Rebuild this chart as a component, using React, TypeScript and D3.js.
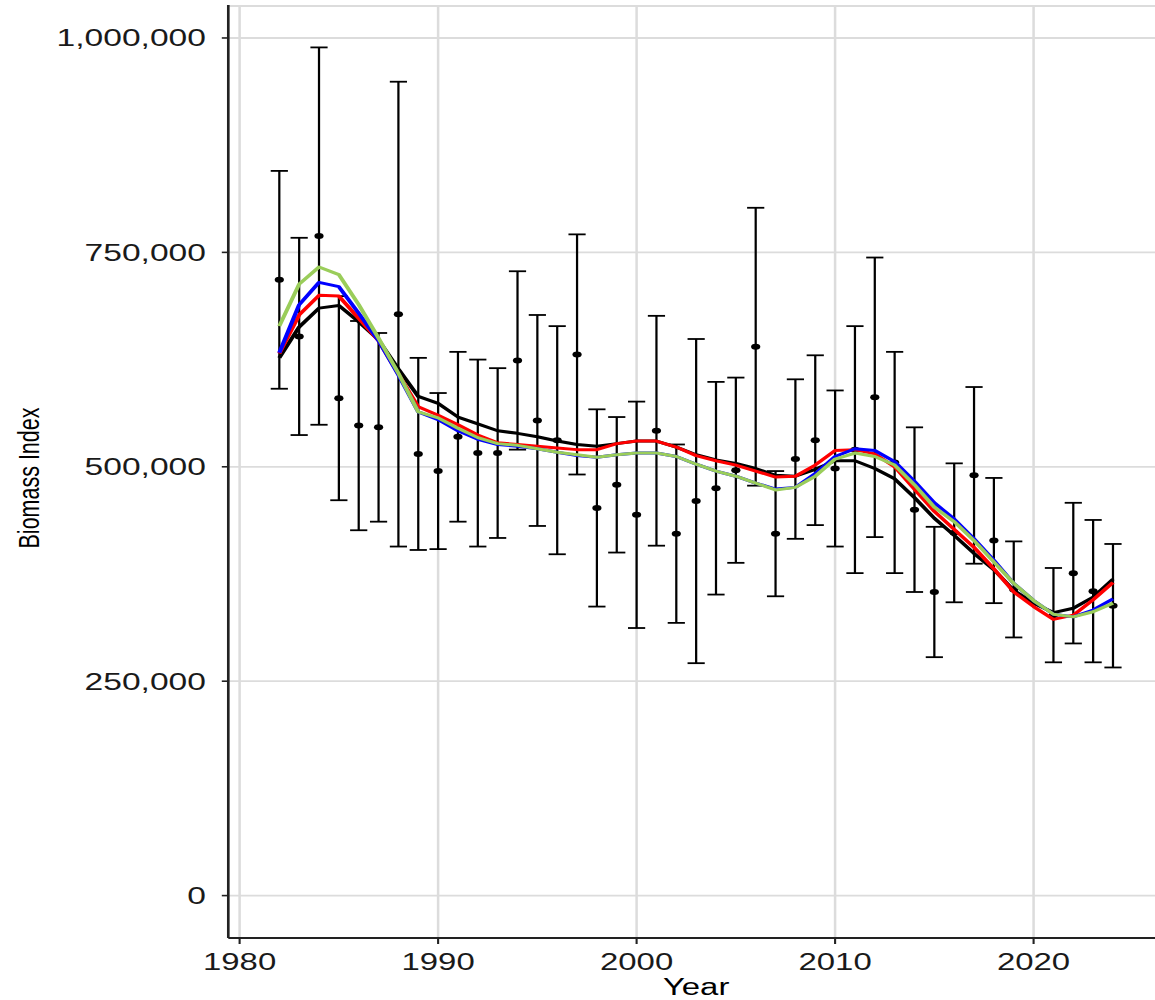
import React from "react";
import * as d3 from "d3";

// Survey biomass index with observation error bars
const obsYears = [
  1982, 1983, 1984, 1985, 1986, 1987, 1988, 1989, 1990, 1991, 1992, 1993, 1994,
  1995, 1996, 1997, 1998, 1999, 2000, 2001, 2002, 2003, 2004, 2005, 2006, 2007,
  2008, 2009, 2010, 2011, 2012, 2013, 2014, 2015, 2016, 2017, 2018, 2019, 2021,
  2022, 2023, 2024,
];
const obsValue = [
  718000, 652000, 769000, 580000, 548000, 546000, 678000, 515000, 495000, 535000,
  516000, 516000, 624000, 554000, 531000, 631000, 452000, 479000, 444000, 542000,
  422000, 460000, 475000, 496000, 640000, 422000, 509000, 531000, 498000, 520000,
  581000, 505000, 450000, 354000, 423000, 490000, 414000, 357000, 327000, 376000,
  355000, 338000,
];
const obsLower = [
  591000, 537000, 549000, 461000, 426000, 436000, 407000, 403000, 404000, 436000,
  407000, 417000, 520000, 431000, 398000, 491000, 337000, 400000, 312000, 408000,
  318000, 271000, 351000, 388000, 478000, 349000, 416000, 432000, 407000, 376000,
  418000, 376000, 354000, 278000, 342000, 387000, 341000, 301000, 272000, 294000,
  272000, 266000,
];
const obsUpper = [
  845000, 767000, 989000, 699000, 670000, 656000, 949000, 627000, 586000, 634000,
  625000, 615000, 728000, 677000, 664000, 771000, 567000, 558000, 576000, 676000,
  526000, 649000, 599000, 604000, 802000, 495000, 602000, 630000, 589000, 664000,
  744000, 634000, 546000, 430000, 504000, 593000, 487000, 413000, 382000, 458000,
  438000, 410000,
];

// Model fits, one value per year
const fitYears = [
  1982, 1983, 1984, 1985, 1986, 1987, 1988, 1989, 1990, 1991, 1992, 1993, 1994,
  1995, 1996, 1997, 1998, 1999, 2000, 2001, 2002, 2003, 2004, 2005, 2006, 2007,
  2008, 2009, 2010, 2011, 2012, 2013, 2014, 2015, 2016, 2017, 2018, 2019, 2020,
  2021, 2022, 2023, 2024,
];
const fitBlack = [
  627000, 663000, 685000, 688000, 669000, 648000, 614000, 582000, 574000, 558000,
  550000, 542000, 539000, 535000, 530000, 526000, 524000, 527000, 530000, 530000,
  523000, 514000, 508000, 504000, 498000, 490000, 489000, 497000, 507000, 507000,
  498000, 486000, 464000, 440000, 420000, 399000, 380000, 356000, 341000, 330000,
  335000, 348000, 369000,
];
const fitRed = [
  632000, 677000, 700000, 699000, 673000, 647000, 608000, 570000, 560000, 549000,
  537000, 528000, 526000, 524000, 522000, 520000, 520000, 527000, 530000, 530000,
  523000, 513000, 507000, 502000, 495000, 488000, 489000, 502000, 519000, 520000,
  515000, 500000, 474000, 448000, 427000, 406000, 381000, 354000, 337000, 322000,
  327000, 345000, 365000,
];
const fitBlue = [
  633000, 689000, 715000, 710000, 679000, 647000, 607000, 564000, 555000, 542000,
  532000, 526000, 524000, 521000, 517000, 513000, 511000, 514000, 516000, 516000,
  512000, 503000, 495000, 489000, 481000, 474000, 476000, 492000, 512000, 521000,
  519000, 506000, 483000, 458000, 439000, 416000, 391000, 364000, 344000, 328000,
  325000, 333000, 346000,
];
const fitGreen = [
  664000, 713000, 733000, 724000, 689000, 650000, 609000, 564000, 557000, 545000,
  534000, 527000, 525000, 521000, 517000, 514000, 511000, 514000, 516000, 516000,
  512000, 503000, 495000, 489000, 481000, 473000, 476000, 489000, 509000, 516000,
  512000, 502000, 479000, 453000, 436000, 414000, 389000, 364000, 344000, 328000,
  325000, 331000, 341000,
];

const seriesList = [
  { name: "black", color: "#000000", values: fitBlack },
  { name: "red", color: "#ff0000", values: fitRed },
  { name: "blue", color: "#0000ff", values: fitBlue },
  { name: "green", color: "#9acd5a", values: fitGreen },
];

const xTicks = [1980, 1990, 2000, 2010, 2020];
const yTicks = [0, 250000, 500000, 750000, 1000000];

// The drawing is laid out in a narrow frame and widened horizontally by SX.
const SX = 1.4;
const W = 1155;
const H = 1000;
const panelLeft = 228.3 / SX;
const panelRight = 1164 / SX;
const panelTop = 5;
const panelBottom = 938;
const FONT = "'Liberation Sans', Arial, Helvetica, sans-serif";

export default function App() {
  const yMax = d3.max(obsUpper) as number;
  const pad = yMax * 0.05;
  const x = d3.scaleLinear().domain([1979.43, 2026.57]).range([panelLeft, panelRight]);
  const y = d3.scaleLinear().domain([-pad, yMax + pad]).range([panelBottom, panelTop]);

  const line = d3
    .line<number>()
    .x((_, i) => x(fitYears[i]))
    .y((d) => y(d));

  const capHalf = 8.6 / SX;
  const fmt = d3.format(",");

  return (
    <svg
      width={W}
      height={H}
      style={{ position: "absolute", left: 0, top: 0, display: "block", background: "#fff" }}
    >
      <rect x={0} y={0} width={W} height={H} fill="#ffffff" />
      <g transform={`scale(${SX},1)`}>
        {/* grid */}
        <line x1={panelLeft} x2={panelRight} y1={panelTop + 1} y2={panelTop + 1} stroke="#dcdcdc" strokeWidth={1.8} />
        {yTicks.map((t) => (
          <line key={"gy" + t} x1={panelLeft} x2={panelRight} y1={y(t)} y2={y(t)} stroke="#dcdcdc" strokeWidth={1.8} />
        ))}
        {xTicks.map((t) => (
          <line key={"gx" + t} x1={x(t)} x2={x(t)} y1={panelTop} y2={panelBottom} stroke="#dcdcdc" strokeWidth={1.8} />
        ))}

        {/* error bars */}
        {obsYears.map((yr, i) => (
          <g key={"eb" + yr} stroke="#000" fill="none">
            <line x1={x(yr)} x2={x(yr)} y1={y(obsLower[i])} y2={y(obsUpper[i])} strokeWidth={1.6} />
            <line x1={x(yr) - capHalf} x2={x(yr) + capHalf} y1={y(obsUpper[i])} y2={y(obsUpper[i])} strokeWidth={1.8} />
            <line x1={x(yr) - capHalf} x2={x(yr) + capHalf} y1={y(obsLower[i])} y2={y(obsLower[i])} strokeWidth={1.8} />
          </g>
        ))}
        {obsYears.map((yr, i) => (
          <ellipse key={"pt" + yr} cx={x(yr)} cy={y(obsValue[i])} rx={4.6 / SX} ry={3} fill="#000" />
        ))}

        {/* fitted lines */}
        {seriesList.map((s) => (
          <path
            key={s.name}
            d={line(s.values) || ""}
            fill="none"
            stroke={s.color}
            strokeWidth={3}
            strokeLinejoin="round"
          />
        ))}

        {/* axes */}
        <line x1={panelLeft} x2={panelLeft} y1={panelTop} y2={panelBottom} stroke="#222" strokeWidth={1.9} />
        <line x1={panelLeft} x2={panelRight} y1={panelBottom} y2={panelBottom} stroke="#222" strokeWidth={2} />
        {yTicks.map((t) => (
          <g key={"yt" + t}>
            <line x1={panelLeft - 6.5 / SX} x2={panelLeft} y1={y(t)} y2={y(t)} stroke="#222" strokeWidth={1.6} />
            <text
              x={206 / SX}
              y={y(t) + 8.4}
              textAnchor="end"
              fontFamily={FONT}
              fontSize={24}
              fill="#1a1a1a"
            >
              {fmt(t)}
            </text>
          </g>
        ))}
        {xTicks.map((t) => (
          <g key={"xt" + t}>
            <line x1={x(t)} x2={x(t)} y1={panelBottom} y2={panelBottom + 6} stroke="#222" strokeWidth={1.5} />
            <text x={x(t)} y={970} textAnchor="middle" fontFamily={FONT} fontSize={23.5} fill="#1a1a1a">
              {t}
            </text>
          </g>
        ))}
        <text
          x={(panelLeft + panelRight) / 2}
          y={995}
          textAnchor="middle"
          fontFamily={FONT}
          fontSize={23.5}
          fill="#000"
        >
          Year
        </text>
        <text
          transform={`translate(${39 / SX},${478}) rotate(-90)`}
          textAnchor="middle"
          fontFamily={FONT}
          fontSize={21.5}
          fill="#000"
        >
          Biomass Index
        </text>
      </g>
    </svg>
  );
}
